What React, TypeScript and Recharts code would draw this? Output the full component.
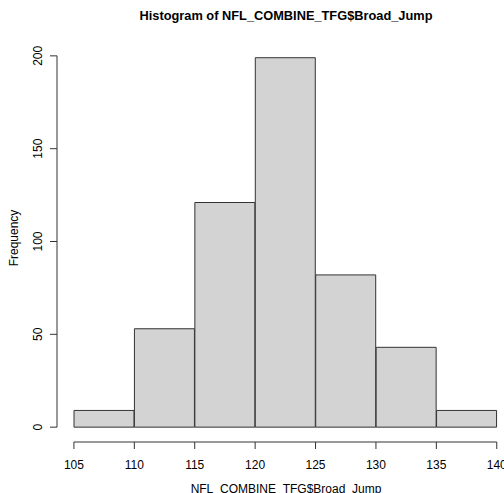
import React from "react";
import { ComposedChart, Bar, Line, XAxis, YAxis, ReferenceLine } from "recharts";

const binLabels = ["105-110", "110-115", "115-120", "120-125", "125-130", "130-135", "135-140"];
const binMids = [107.5, 112.5, 117.5, 122.5, 127.5, 132.5, 137.5];
const frequencies = [9, 53, 121, 199, 82, 43, 9];
const xTicks = [105, 110, 115, 120, 125, 130, 135, 140];
const yTicks = [0, 50, 100, 150, 200];

const data = binLabels.map((bin, i) => ({ bin, mid: binMids[i], count: frequencies[i] }));

const FONT = "'Liberation Sans', Arial, Helvetica, sans-serif";

const XTick = (props: any) => {
  const { x, y, payload } = props;
  return (
    <text x={x} y={y + 14} textAnchor="middle" dominantBaseline="central" fontSize={12} fontFamily={FONT} fill="#000">
      {payload.value}
    </text>
  );
};

const YTick = (props: any) => {
  const { y, payload } = props;
  const cx = 38;
  return (
    <text x={cx} y={y} transform={`rotate(-90, ${cx}, ${y})`} textAnchor="middle" dominantBaseline="central" fontSize={12} fontFamily={FONT} fill="#000">
      {payload.value}
    </text>
  );
};

export default function App() {
  return (
    <div style={{ position: "absolute", left: 0, top: 0, width: 504, height: 493, background: "#fff", overflow: "hidden" }}>
      <ComposedChart
        width={504}
        height={493}
        data={data}
        margin={{ top: 41, right: 0, bottom: 0, left: 0 }}
        barCategoryGap={0}
        barGap={0}
      >
        <XAxis
          xAxisId="num"
          dataKey="mid"
          type="number"
          domain={[103.6, 140.6]}
          ticks={xTicks}
          allowDataOverflow
          height={51}
          axisLine={false}
          tickLine={{ stroke: "#333" }}
          tickSize={7}
          tick={<XTick />}
          interval={0}
        />
        <XAxis xAxisId="cat" dataKey="bin" type="category" hide height={0} padding={{ left: 17, right: 7 }} />
        <YAxis
          type="number"
          domain={[-8, 208]}
          ticks={yTicks}
          allowDataOverflow
          width={57}
          axisLine={false}
          tickLine={{ stroke: "#333" }}
          tickSize={7}
          tick={<YTick />}
          interval={0}
        />
        <ReferenceLine
          xAxisId="num"
          segment={[{ x: 105, y: -8 }, { x: 140, y: -8 }]}
          stroke="#333"
          ifOverflow="visible"
        />
        <ReferenceLine
          xAxisId="num"
          segment={[{ x: 103.6, y: 0 }, { x: 103.6, y: 200 }]}
          stroke="#333"
          ifOverflow="visible"
        />
        <Bar xAxisId="cat" dataKey="count" fill="#D3D3D3" stroke="#333" strokeWidth={1} isAnimationActive={false} />
        <Line xAxisId="num" dataKey="count" stroke="none" dot={false} activeDot={false} isAnimationActive={false} legendType="none" />
      </ComposedChart>
      <svg width={504} height={493} style={{ position: "absolute", left: 0, top: 0, pointerEvents: "none" }}>
        <text x={286} y={19.5} textAnchor="middle" fontSize={12.8} fontWeight="bold" fontFamily={FONT} fill="#000">
          Histogram of NFL_COMBINE_TFG$Broad_Jump
        </text>
        <text x={286} y={493} textAnchor="middle" fontSize={12} fontFamily={FONT} fill="#000">
          NFL_COMBINE_TFG$Broad_Jump
        </text>
        <text x={14} y={238} transform="rotate(-90, 14, 238)" textAnchor="middle" dominantBaseline="central" fontSize={12} fontFamily={FONT} fill="#000">
          Frequency
        </text>
      </svg>
    </div>
  );
}
